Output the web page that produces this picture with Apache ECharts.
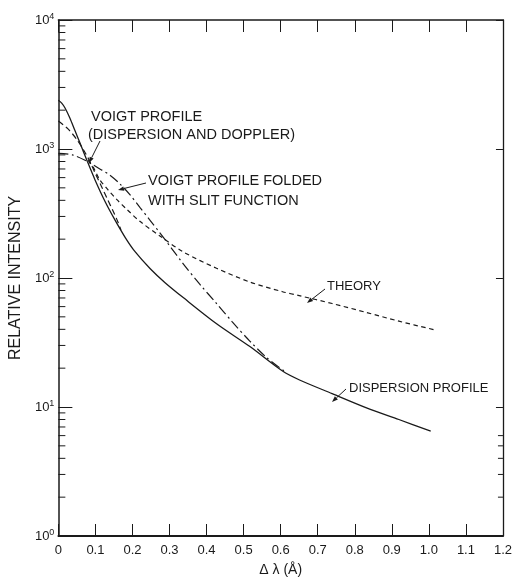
<!DOCTYPE html>
<html>
<head>
<meta charset="utf-8">
<script src="https://cdn.jsdelivr.net/npm/echarts@6/dist/echarts.min.js"></script>
<style>
html,body{margin:0;padding:0;background:#fff;}
#c{width:515px;height:582px;}
</style>
</head>
<body>
<div id="c"></div>
<script>
// ---- data (Δλ in Å, relative intensity) ----
const dispersionX = [0, 0.009, 0.018, 0.031, 0.045, 0.059, 0.078, 0.099, 0.126, 0.153, 0.181, 0.207, 0.248, 0.288, 0.337, 0.428, 0.517, 0.605, 0.651, 0.739, 0.83, 0.919, 1.005];
const dispersionY = [2390, 2270, 2080, 1740, 1383, 1102, 804, 576, 392, 281, 205, 160, 118, 92, 70.5, 44, 29.4, 19.0, 16.2, 12.7, 9.9, 8.0, 6.5];

const voigtX = [0, 0.026, 0.05, 0.072, 0.086, 0.099, 0.118, 0.134, 0.148, 0.161, 0.169];
const voigtY = [1648, 1432, 1182, 940, 789, 652, 501, 399, 329, 271, 236];

const foldedX = [0, 0.038, 0.072, 0.113, 0.139, 0.166, 0.193, 0.22, 0.247, 0.274, 0.336, 0.381, 0.427, 0.47, 0.516, 0.562, 0.615];
const foldedY = [925, 900, 818, 698, 628, 537, 443, 353, 281, 224, 130, 90, 63.4, 45.5, 32.6, 24.2, 18.5];

const theoryX = [0.08, 0.094, 0.112, 0.134, 0.158, 0.185, 0.22, 0.274, 0.336, 0.427, 0.516, 0.605, 0.65, 0.739, 0.83, 0.919, 1.018];
const theoryY = [818, 723, 576, 483, 405, 340, 275, 212, 160, 119, 93.3, 78.3, 73, 63.4, 54.2, 46.3, 39.5];

const yDecades = [1, 10, 100, 1000, 10000];
const minorMultipliers = [2, 3, 4, 5, 6, 7, 8, 9];
const rightMinorValues = [2, 3, 4, 5, 6];

const annotationTexts = ['VOIGT PROFILE', '(DISPERSION AND DOPPLER)', 'VOIGT PROFILE FOLDED', 'WITH SLIT FUNCTION', 'THEORY', 'DISPERSION PROFILE'];

function pairs(xs, ys) { return xs.map((x, i) => [x, ys[i]]); }

const leftMinor = [];
yDecades.slice(0, 4).forEach(d => minorMultipliers.forEach(m => leftMinor.push([0, d * m])));
const rightMinor = rightMinorValues.map(m => [1.2, m]);

const INK = '#1a1a1a';
const FONT = 'Liberation Sans';

const chart = echarts.init(document.getElementById('c'), null, {renderer: 'canvas'});

const lineBase = {type: 'line', symbol: 'none', smooth: 0.3, xAxisIndex: 0, yAxisIndex: 0, silent: true, z: 3};

const tickSeries = (data) => ({
  type: 'custom', xAxisIndex: 0, yAxisIndex: 0, silent: true, clip: false, z: 4,
  data: data,
  renderItem: function (params, api) {
    const xv = api.value(0), yv = api.value(1);
    const p = api.coord([xv, yv]);
    const dir = xv > 0.6 ? -1 : 1;
    const len = xv > 0.6 ? 5 : 7;
    return {type: 'line', shape: {x1: p[0], y1: p[1], x2: p[0] + dir * len, y2: p[1]}, style: {stroke: INK, lineWidth: 1}};
  }
});

chart.setOption({
  backgroundColor: '#fff',
  animation: false,
  grid: {left: 56, right: 8, top: 20, bottom: 36, containLabel: false},
  xAxis: [{
    type: 'value', position: 'bottom', min: 0, max: 1.2, interval: 0.1,
    name: 'Δ λ (Å)', nameLocation: 'middle', nameGap: 27,
    nameTextStyle: {fontFamily: FONT, fontSize: 14, color: INK},
    axisLine: {show: true, onZero: false, lineStyle: {color: INK, width: 1.8}},
    axisTick: {show: true, inside: true, length: 12, lineStyle: {color: INK, width: 1}},
    axisLabel: {show: true, margin: 8, fontFamily: FONT, fontSize: 13, color: INK,
      formatter: v => (Math.abs(v) < 1e-9 ? '0' : v.toFixed(1))},
    splitLine: {show: false}
  }, {
    type: 'value', position: 'top', min: 0, max: 1.2, interval: 0.1,
    axisLine: {show: true, onZero: false, lineStyle: {color: INK, width: 1.5}},
    axisTick: {show: true, inside: true, length: 12, lineStyle: {color: INK, width: 1}},
    axisLabel: {show: false}, splitLine: {show: false}
  }],
  yAxis: [{
    type: 'log', logBase: 10, min: 1, max: 10000, position: 'left',
    name: 'RELATIVE INTENSITY', nameLocation: 'middle', nameGap: 21, nameRotate: 90,
    nameTextStyle: {fontFamily: FONT, fontSize: 16, color: INK},
    axisLine: {show: true, onZero: false, lineStyle: {color: INK, width: 1.5}},
    axisTick: {show: true, inside: true, length: 14, lineStyle: {color: INK, width: 1}},
    axisLabel: {show: true, margin: 4, color: INK,
      formatter: v => '{b|10}{s|' + Math.round(Math.log10(v)) + '}',
      rich: {
        b: {fontFamily: FONT, fontSize: 13, color: INK},
        s: {fontFamily: FONT, fontSize: 9, color: INK, padding: [0, 0, 7, 0]}
      }},
    splitLine: {show: false}
  }, {
    type: 'log', logBase: 10, min: 1, max: 10000, position: 'right',
    axisLine: {show: true, onZero: false, lineStyle: {color: INK, width: 1.3}},
    axisTick: {show: true, inside: true, length: 7, lineStyle: {color: INK, width: 1}},
    axisLabel: {show: false}, splitLine: {show: false}
  }],
  series: [
    Object.assign({}, lineBase, {name: 'Dispersion profile', data: pairs(dispersionX, dispersionY),
      lineStyle: {color: INK, width: 1.3, type: 'solid'}}),
    Object.assign({}, lineBase, {name: 'Voigt profile', data: pairs(voigtX, voigtY),
      lineStyle: {color: INK, width: 1.2, type: [6, 3.5]}}),
    Object.assign({}, lineBase, {name: 'Voigt folded', data: pairs(foldedX, foldedY),
      lineStyle: {color: INK, width: 1.2, type: [10, 3.5, 2, 3.5]}}),
    Object.assign({}, lineBase, {name: 'Theory', data: pairs(theoryX, theoryY),
      lineStyle: {color: INK, width: 1.2, type: [4.5, 3.5]}}),
    tickSeries(leftMinor),
    tickSeries(rightMinor)
  ]
});

// ---- annotations (labels with pointer arrows) ----
const labelLayout = [
  {left: 91, cy: 118, size: 14.5},
  {left: 88, cy: 136, size: 14.5},
  {left: 148, cy: 182, size: 14.5},
  {left: 148, cy: 202, size: 14.5},
  {left: 327, cy: 288, size: 13},
  {left: 349, cy: 390, size: 13}
];
const arrowLayout = [
  [100, 141, 89, 163],
  [146, 183, 118, 190],
  [325, 289, 307, 303],
  [346, 389, 332, 402]
];
const graphics = [];
annotationTexts.forEach((t, i) => {
  const L = labelLayout[i];
  graphics.push({type: 'text', left: L.left, top: L.cy - L.size * 0.6, silent: true, z: 10,
    style: {text: t, fontFamily: FONT, fontSize: L.size, fill: INK}});
});
arrowLayout.forEach(a => {
  const [x1, y1, x2, y2] = a;
  const dx = x2 - x1, dy = y2 - y1, l = Math.hypot(dx, dy);
  const ux = dx / l, uy = dy / l;
  const hl = 6, hw = 2.2;
  const bx = x2 - ux * hl, by = y2 - uy * hl;
  graphics.push({type: 'line', silent: true, z: 10, shape: {x1: x1, y1: y1, x2: bx, y2: by}, style: {stroke: INK, lineWidth: 1}});
  graphics.push({type: 'polygon', silent: true, z: 10,
    shape: {points: [[x2, y2], [bx - uy * hw, by + ux * hw], [bx + uy * hw, by - ux * hw]]},
    style: {fill: INK}});
});
chart.setOption({graphic: graphics});
</script>
</body>
</html>
